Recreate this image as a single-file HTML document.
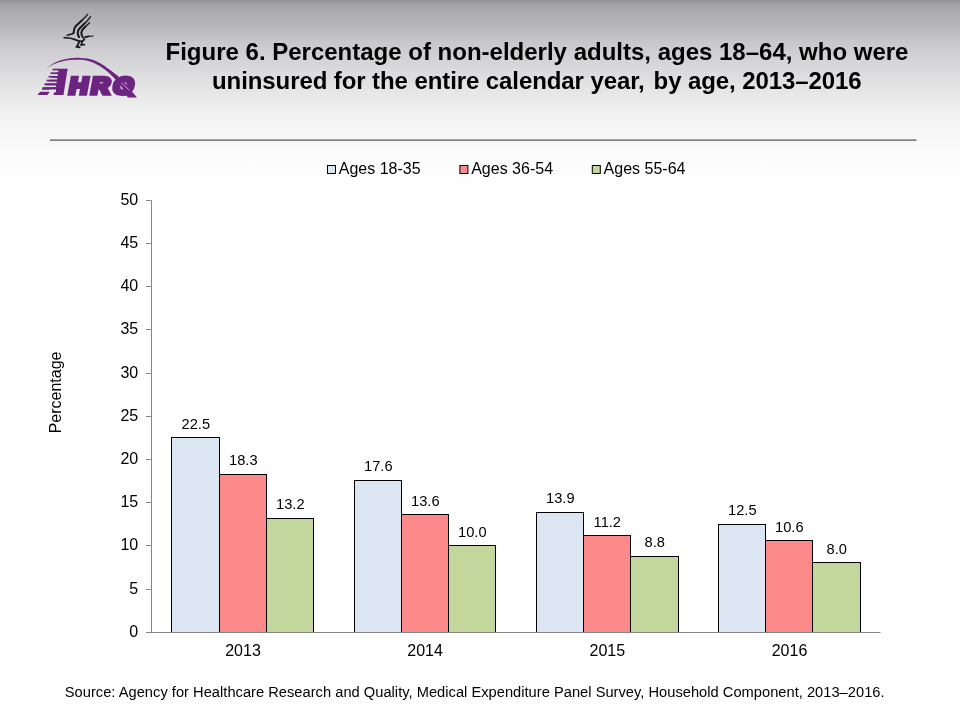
<!DOCTYPE html>
<html lang="en">
<head>
<meta charset="utf-8">
<title>Figure 6. Percentage of non-elderly adults, ages 18–64, who were uninsured for the entire calendar year, by age, 2013–2016</title>
<style>
html,body{margin:0;padding:0;width:960px;height:720px;overflow:hidden;background:#fff;}
svg{display:block;position:absolute;left:0;top:0;}
text{font-family:"Liberation Sans",sans-serif;fill:#000;}
.t{font-size:24px;font-weight:bold;text-anchor:middle;}
.ax{font-size:16px;}
.dl{font-size:14.667px;text-anchor:middle;}
.src{font-size:14.667px;}
</style>
</head>
<body>
<svg width="960" height="720" viewBox="0 0 960 720">
<defs>
<linearGradient id="bg" gradientUnits="userSpaceOnUse" x1="0" y1="0" x2="0" y2="190">
<stop offset="0.0000" stop-color="#939398"/>
<stop offset="0.0263" stop-color="#a2a2a6"/>
<stop offset="0.0526" stop-color="#ababae"/>
<stop offset="0.1316" stop-color="#b7b7ba"/>
<stop offset="0.1579" stop-color="#bcbcc0"/>
<stop offset="0.2211" stop-color="#c8c8ca"/>
<stop offset="0.3158" stop-color="#d4d4d6"/>
<stop offset="0.3947" stop-color="#dddddf"/>
<stop offset="0.4737" stop-color="#e5e5e6"/>
<stop offset="0.5526" stop-color="#ededee"/>
<stop offset="0.6316" stop-color="#f3f3f3"/>
<stop offset="0.7105" stop-color="#f7f7f7"/>
<stop offset="0.7895" stop-color="#fafafa"/>
<stop offset="0.8947" stop-color="#fdfdfd"/>
<stop offset="1.0000" stop-color="#ffffff"/>
</linearGradient>
</defs>
<rect x="0" y="0" width="960" height="190" fill="url(#bg)"/>

<g id="eagle">
<g fill="none" stroke="#1c1c1c" stroke-linecap="round" stroke-linejoin="round">
<g stroke-width="1.4">
<path d="M87.6 14.4 C86 16.4 84.4 18 82.8 19.6 L77.9 24.1 C76.4 25.4 75.6 26 75.1 26.9 C74.5 28 74.3 29 74.1 30 L73.4 33.3"/>
<path d="M90.4 16.8 C89 18.8 87.2 20.8 85.6 22.4 L80.7 27.2 C79.4 28.4 78.7 29.2 78.3 30.3 C77.8 31.6 77.6 32.4 77.7 33.5 C77.9 35 78.4 36.2 79.2 37.4"/>
<path d="M89.5 22.7 C88 24.2 86.4 25.7 84.9 27.2 C83.6 28.4 82.6 29.2 82.1 30.3 C81.6 31.4 81.4 32.4 81.4 33.5 C81.5 34.6 81.9 35.7 82.4 36.6 C82.9 37.5 83.5 38.3 84.2 39"/>
</g>
<g stroke-width="1.95">
<path d="M82 20.4 L77.9 24.1 C76.4 25.4 75.6 26 75.1 26.9 C74.5 28 74.3 29 74.1 30 L73.5 33"/>
<path d="M84.6 23.4 L80.7 27.2 C79.4 28.4 78.7 29.2 78.3 30.3 C77.8 31.6 77.6 32.4 77.7 33.5 C77.9 35 78.4 36 79 37"/>
<path d="M85.6 26.5 C83.8 28.2 82.6 29.2 82.1 30.3 C81.6 31.4 81.4 32.4 81.4 33.5 C81.5 34.6 81.9 35.7 82.4 36.6"/>
</g>
<path stroke-width="1.5" d="M73.4 33.5 L69.9 34.5 L67.2 35.3"/>
<path stroke-width="1.7" d="M64.2 37.6 C66 37.6 67.4 37.8 68.9 38 C70.8 38.3 72.6 38.8 74.4 39.4 C76 40 77.8 40.6 79.3 41.1 C80.6 41.4 81.8 41.3 82.8 40.8 C83.6 40.4 84.1 40 84.5 39.4"/>
<path stroke-width="1.9" d="M85.2 37.1 L88.3 36.4"/>
<path stroke-width="1.2" d="M85.2 37.1 L88.3 36.3 L93.2 36"/>
<path stroke-width="2" d="M79.3 41.3 L78.3 43.9 L76.9 46.8 M76.4 46.8 L79.5 47.3"/>
<path stroke-width="1.8" d="M82.1 41.5 L81.4 44.4 M80.9 44.9 L84.3 44.7"/>
</g>
<g id="ahrq">
<defs>
<mask id="stripes" maskUnits="userSpaceOnUse" x="30" y="60" width="60" height="45">
<rect x="30" y="60" width="60" height="45" fill="#fff"/>
<path d="M30 71.3 H58.4 M30 75 H57.8 M30 78.7 H57.2 M30 82.4 H56.6 M30 86.3 H55.9 M30 90.8 H55.2" stroke="#000" stroke-width="2" fill="none"/>
<path d="M49.5 90.8 H56" stroke="#000" stroke-width="3" fill="none"/>
</mask>
<clipPath id="lclip"><rect x="30" y="60" width="120" height="35.7"/></clipPath>
</defs>
<g fill="#6c2480" stroke="#6c2480" style="font-weight:bold" clip-path="url(#lclip)">
<g mask="url(#stripes)"><text transform="translate(42.2 92.2) skewX(-26.5) scale(0.94 1)" x="0" y="0" style="font-size:28.6px;fill:#6c2480" stroke-width="6" stroke-linejoin="miter" stroke-miterlimit="2">A</text></g>
<text transform="translate(67.9 93.5) skewX(-10.5) scale(1.10 1)" x="0" y="0" style="font-size:23.7px;fill:#6c2480" stroke-width="4" stroke-linejoin="miter" letter-spacing="2.9">HRQ</text>
</g>
<g fill="#6c2480">
<rect x="52.58" y="68.70" width="15.02" height="1.70"/>
<rect x="50.56" y="72.35" width="8.72" height="1.70"/>
<rect x="48.56" y="75.95" width="10.13" height="1.70"/>
<rect x="46.51" y="79.65" width="11.57" height="1.70"/>
<rect x="44.40" y="83.30" width="13.06" height="2.00"/>
<rect x="42.18" y="87.30" width="14.62" height="2.00"/>
<path d="M47.00 67.90 C48.17 67.08 51.72 64.27 54.00 63.00 C56.28 61.73 58.48 61.02 60.70 60.30 C62.92 59.58 65.08 59.10 67.30 58.70 C69.52 58.30 71.77 58.03 74.00 57.90 C76.23 57.77 78.48 57.78 80.70 57.90 C82.92 58.02 85.08 58.20 87.30 58.60 C89.52 59.00 91.78 59.47 94.00 60.30 C96.22 61.13 98.38 62.32 100.60 63.60 C102.82 64.88 105.15 66.50 107.30 68.00 C109.45 69.50 111.55 71.10 113.50 72.60 C115.45 74.10 118.08 76.27 119.00 77.00 L116.00 80.00 C115.33 79.33 113.45 77.40 112.00 76.00 C110.55 74.60 109.20 73.17 107.30 71.60 C105.40 70.03 102.82 68.05 100.60 66.60 C98.38 65.15 96.22 63.87 94.00 62.90 C91.78 61.93 89.52 61.32 87.30 60.80 C85.08 60.28 82.92 59.98 80.70 59.80 C78.48 59.62 76.23 59.63 74.00 59.70 C71.77 59.77 69.52 59.87 67.30 60.20 C65.08 60.53 62.92 61.07 60.70 61.70 C58.48 62.33 56.28 62.97 54.00 64.00 C51.72 65.03 48.17 67.25 47.00 67.90 Z"/>
<path d="M119.5 83.6 L123.4 81 L136.9 97.4 L127.8 97.4 Z"/>
</g>
<path d="M121.4 82.9 L129.6 90.4" stroke="#d9d2de" stroke-width="0.7" fill="none"/>
</g>
</g>
<text class="t" x="537" y="59.8">Figure 6. Percentage of non-elderly adults, ages 18–64, who were</text>
<text class="t" x="536.8" y="88.6" style="letter-spacing:-0.09px">uninsured for the entire calendar year,<tspan dx="2.3"> by age, 2013–2016</tspan></text>
<rect x="50" y="139" width="866.5" height="1" fill="#a6a6a6"/>
<rect x="50" y="140" width="866.5" height="1" fill="#7e7e7e"/>
<rect x="327.5" y="165.5" width="8" height="8" fill="#dce6f2" stroke="#000" stroke-width="1"/>
<text class="ax" x="338.8" y="173.8">Ages 18-35</text>
<rect x="459.9" y="165.5" width="8" height="8" fill="#fd8a8a" stroke="#000" stroke-width="1"/>
<text class="ax" x="471.2" y="173.8">Ages 36-54</text>
<rect x="592.3" y="165.5" width="8" height="8" fill="#c3d69b" stroke="#000" stroke-width="1"/>
<text class="ax" x="603.6" y="173.8">Ages 55-64</text>
<text class="ax" text-anchor="end" x="138.2" y="637.2">0</text>
<text class="ax" text-anchor="end" x="138.2" y="594.2">5</text>
<text class="ax" text-anchor="end" x="138.2" y="550.2">10</text>
<text class="ax" text-anchor="end" x="138.2" y="507.2">15</text>
<text class="ax" text-anchor="end" x="138.2" y="464.2">20</text>
<text class="ax" text-anchor="end" x="138.2" y="421.2">25</text>
<text class="ax" text-anchor="end" x="138.2" y="378.2">30</text>
<text class="ax" text-anchor="end" x="138.2" y="334.2">35</text>
<text class="ax" text-anchor="end" x="138.2" y="291.2">40</text>
<text class="ax" text-anchor="end" x="138.2" y="248.2">45</text>
<text class="ax" text-anchor="end" x="138.2" y="205.2">50</text>
<text class="ax" text-anchor="middle" transform="translate(61 392.4) rotate(-90)">Percentage</text>
<rect x="171.5" y="437.5" width="48.0" height="195.0" fill="#dce6f2" stroke="#000" stroke-width="1"/>
<text class="dl" x="195.8" y="429">22.5</text>
<rect x="219.5" y="474.5" width="47.0" height="158.0" fill="#fd8a8a" stroke="#000" stroke-width="1"/>
<text class="dl" x="243.3" y="465">18.3</text>
<rect x="266.5" y="518.5" width="47.0" height="114.0" fill="#c3d69b" stroke="#000" stroke-width="1"/>
<text class="dl" x="290.3" y="509">13.2</text>
<text class="ax" text-anchor="middle" x="243.0" y="656">2013</text>
<rect x="354.5" y="480.5" width="47.0" height="152.0" fill="#dce6f2" stroke="#000" stroke-width="1"/>
<text class="dl" x="378.3" y="471">17.6</text>
<rect x="401.5" y="514.5" width="47.0" height="118.0" fill="#fd8a8a" stroke="#000" stroke-width="1"/>
<text class="dl" x="425.3" y="506">13.6</text>
<rect x="448.5" y="545.5" width="47.0" height="87.0" fill="#c3d69b" stroke="#000" stroke-width="1"/>
<text class="dl" x="472.3" y="537">10.0</text>
<text class="ax" text-anchor="middle" x="425.1" y="656">2014</text>
<rect x="536.5" y="512.5" width="47.0" height="120.0" fill="#dce6f2" stroke="#000" stroke-width="1"/>
<text class="dl" x="560.3" y="503">13.9</text>
<rect x="583.5" y="535.5" width="47.0" height="97.0" fill="#fd8a8a" stroke="#000" stroke-width="1"/>
<text class="dl" x="607.3" y="527">11.2</text>
<rect x="630.5" y="556.5" width="48.0" height="76.0" fill="#c3d69b" stroke="#000" stroke-width="1"/>
<text class="dl" x="654.8" y="547">8.8</text>
<text class="ax" text-anchor="middle" x="607.3" y="656">2015</text>
<rect x="718.5" y="524.5" width="47.0" height="108.0" fill="#dce6f2" stroke="#000" stroke-width="1"/>
<text class="dl" x="742.3" y="515">12.5</text>
<rect x="765.5" y="540.5" width="47.0" height="92.0" fill="#fd8a8a" stroke="#000" stroke-width="1"/>
<text class="dl" x="789.3" y="532">10.6</text>
<rect x="812.5" y="562.5" width="48.0" height="70.0" fill="#c3d69b" stroke="#000" stroke-width="1"/>
<text class="dl" x="836.8" y="554">8.0</text>
<text class="ax" text-anchor="middle" x="789.5" y="656">2016</text>
<g stroke="#868686" stroke-width="1" fill="none">
<path d="M151.5 200.5 V632.5"/>
<path d="M146.0 632.5 H880.5"/>
<path d="M146.0 589.5 H151.5"/>
<path d="M146.0 545.5 H151.5"/>
<path d="M146.0 502.5 H151.5"/>
<path d="M146.0 459.5 H151.5"/>
<path d="M146.0 416.5 H151.5"/>
<path d="M146.0 373.5 H151.5"/>
<path d="M146.0 329.5 H151.5"/>
<path d="M146.0 286.5 H151.5"/>
<path d="M146.0 243.5 H151.5"/>
<path d="M146.0 200.5 H151.5"/>
</g>
<text class="src" x="64.8" y="696.8" style="letter-spacing:0.02px">Source: Agency for Healthcare Research and Quality, Medical Expenditure Panel Survey, Household Component, 2013–2016.</text>
</svg>
</body>
</html>
